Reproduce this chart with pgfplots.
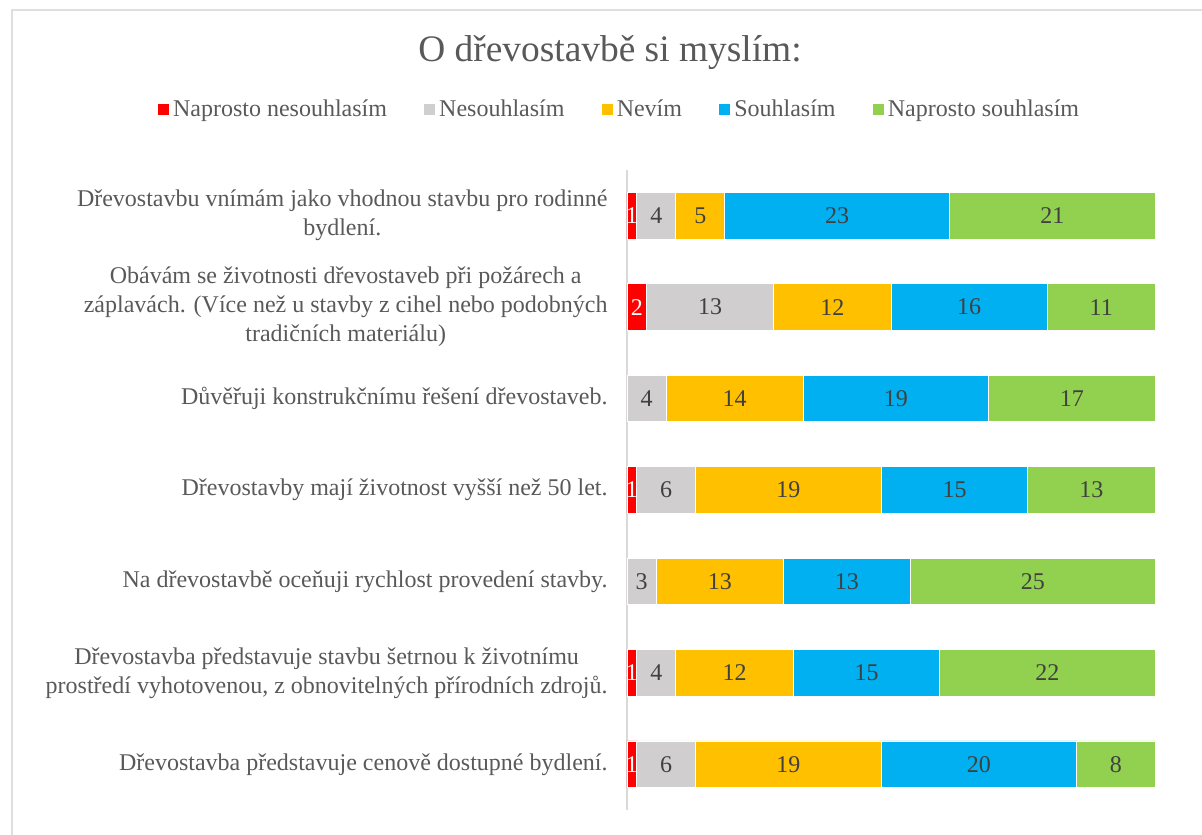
\documentclass[border=0pt]{standalone}
\usepackage{fontspec}
\setmainfont{LiberationSerif-Regular.ttf}
\usepackage{pgfplots}
\usepackage{pgfplotstable}
\pgfplotsset{compat=1.18}

\definecolor{cNN}{HTML}{FF0000}
\definecolor{cN}{HTML}{D0CECE}
\definecolor{cV}{HTML}{FFC000}
\definecolor{cS}{HTML}{00B0F0}
\definecolor{cNS}{HTML}{92D050}
\definecolor{txt}{HTML}{595959}
\definecolor{val}{HTML}{404040}

% y = row (1 = top), columns = answer counts
\pgfplotstableread{
y  nn n  v  s  ns
1  1  4  5  23 21
2  2  13 12 16 11
3  0  4  14 19 17
4  1  6  19 15 13
5  0  3  13 13 25
6  1  4  12 15 22
7  1  6  19 20 8
}\answers

\begin{document}
\begin{tikzpicture}
\useasboundingbox (-313.5pt,-12pt) rectangle (287.5pt,405pt);
\draw[gray!25, line width=1pt] (-307.5pt,400pt) rectangle (300pt,-30pt);
\begin{axis}[
  at={(0,0)}, anchor=south west,
  scale only axis,
  width=264pt, height=320pt,
  xbar stacked,
  bar width=23.3pt,
  xmin=0, xmax=54,
  ymin=0.5, ymax=7.5,
  y dir=reverse,
  axis x line=none,
  axis y line*=left,
  y axis line style={draw=gray!30, line width=1pt, -},
  ytick={1,...,7},
  major tick length=0pt,
  yticklabels={
    {Dřevostavbu vnímám jako vhodnou stavbu pro rodinné\\bydlení.},
    {Obávám se životnosti dřevostaveb při požárech a\\záplavách. (Více než u stavby z cihel nebo podobných\\tradičních materiálu)},
    {Důvěřuji konstrukčnímu řešení dřevostaveb.},
    {Dřevostavby mají životnost vyšší než 50 let.},
    {Na dřevostavbě oceňuji rychlost provedení stavby.},
    {Dřevostavba představuje stavbu šetrnou k životnímu\\prostředí vyhotovenou, z obnovitelných přírodních zdrojů.},
    {Dřevostavba představuje cenově dostupné bydlení.}
  },
  yticklabel style={align=center, font=\fontsize{12}{14.5}\selectfont, text=txt, inner xsep=9.5pt},
  /pgf/number format/assume math mode=true,
  point meta=explicit,
  nodes near coords={\pgfmathfloatifflags{\pgfplotspointmeta}{0}{}{\pgfmathprintnumber{\pgfplotspointmeta}}},
  every node near coord/.append style={font=\fontsize{12}{14}\selectfont, text=val},
  legend columns=5,
  legend style={at={(-0.0123,1.094)}, anchor=center, draw=none, fill=none,
    font=\fontsize{12}{14}\selectfont, text=txt,
    /tikz/every even column/.append style={column sep=16.5pt},
    /tikz/every odd column/.append style={column sep=0pt},
    inner sep=0pt},
  legend image code/.code={\fill[#1, draw=none] (0pt,-2.8pt) rectangle (5.6pt,2.8pt);},
]
\addplot[fill=cNN, draw=white, line width=0.4pt, every node near coord/.append style={text=white}]
  table[x=nn, y=y, meta=nn] {\answers};
\addlegendentry{Naprosto nesouhlasím}
\addplot[fill=cN, draw=white, line width=0.4pt] table[x=n, y=y, meta=n] {\answers};
\addlegendentry{Nesouhlasím}
\addplot[fill=cV, draw=white, line width=0.4pt] table[x=v, y=y, meta=v] {\answers};
\addlegendentry{Nevím}
\addplot[fill=cS, draw=white, line width=0.4pt] table[x=s, y=y, meta=s] {\answers};
\addlegendentry{Souhlasím}
\addplot[fill=cNS, draw=white, line width=0.4pt] table[x=ns, y=y, meta=ns] {\answers};
\addlegendentry{Naprosto souhlasím}
\end{axis}
\node[font=\fontsize{18.7}{22}\selectfont, text=txt] at (-8.5pt,378.5pt) {O dřevostavbě si myslím:};
\end{tikzpicture}
\end{document}
